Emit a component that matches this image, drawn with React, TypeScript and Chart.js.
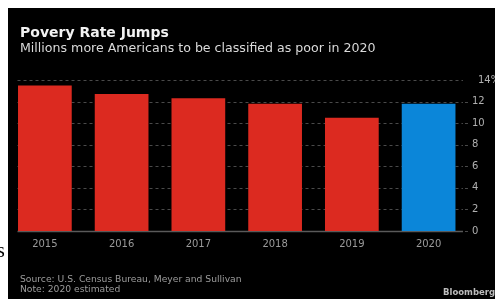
import React, { useEffect, useRef } from "react";
import { Chart, registerables } from "chart.js";

Chart.register(...registerables);

const years = ["2015", "2016", "2017", "2018", "2019", "2020"];
const povertyRate = [13.5, 12.7, 12.3, 11.8, 10.5, 11.8];
const barColors = ["#dc2a20", "#dc2a20", "#dc2a20", "#dc2a20", "#dc2a20", "#0b86d9"];
const yTicks = [0, 2, 4, 6, 8, 10, 12, 14];

const gridPlugin = {
  id: "customGrid",
  beforeDatasetsDraw(chart: any) {
    const { ctx, chartArea, scales } = chart;
    const y = scales.y;
    const x0 = chartArea.left + 11;
    const x1 = chartArea.right - 4;
    ctx.save();
    yTicks.forEach((v) => {
      const py = Math.round(y.getPixelForValue(v)) + 0.5;
      ctx.beginPath();
      if (v === 0) {
        ctx.setLineDash([]);
        ctx.strokeStyle = "#5a5a5a";
        ctx.lineWidth = 1.5;
      } else {
        ctx.setLineDash([3, 3]);
        ctx.strokeStyle = "#4a4a4a";
        ctx.lineWidth = 1;
      }
      ctx.moveTo(x0, py);
      ctx.lineTo(x1, py);
      ctx.stroke();
      if (v !== 14) {
        ctx.setLineDash([]);
        ctx.strokeStyle = "#4a4a4a";
        ctx.lineWidth = 1;
        ctx.beginPath();
        ctx.moveTo(x1 + 2, py);
        ctx.lineTo(x1 + 5, py);
        ctx.stroke();
      }
    });
    ctx.fillStyle = "#b0b0b0";
    ctx.font = "10px 'DejaVu Sans'";
    ctx.textBaseline = "middle";
    ctx.textAlign = "left";
    ctx.fillText("14%", chartArea.right + 11, y.getPixelForValue(14));
    ctx.restore();
  },
};

export default function App() {
  const ref = useRef<HTMLCanvasElement>(null);
  useEffect(() => {
    if (!ref.current) return;
    const chart = new Chart(ref.current, {
      type: "bar",
      data: {
        labels: years,
        datasets: [
          {
            data: povertyRate,
            backgroundColor: barColors,
            borderWidth: 0,
            barPercentage: 0.7,
            categoryPercentage: 1,
          },
        ],
      },
      options: {
        animation: false,
        responsive: false,
        maintainAspectRatio: false,
        layout: { padding: { left: 6.5, right: 5.3, top: 80, bottom: 42 } },
        plugins: { legend: { display: false }, tooltip: { enabled: false }, title: { display: false } },
        scales: {
          x: {
            grid: { display: false, drawTicks: false },
            border: { display: false },
            ticks: { color: "#9a9a9a", font: { family: "DejaVu Sans", size: 10 }, padding: 7 },
          },
          y: {
            position: "right",
            min: 0,
            max: 14,
            grid: { display: false, drawTicks: false },
            border: { display: false },
            afterBuildTicks: (axis: any) => {
              axis.ticks = yTicks.map((v) => ({ value: v }));
            },
            ticks: {
              color: "#b0b0b0",
              font: { family: "DejaVu Sans", size: 10 },
              padding: 5,
              callback: (v: any) => (v === 14 ? "" : String(v)),
            },
          },
        },
      },
      plugins: [gridPlugin],
    });
    return () => chart.destroy();
  }, []);

  return (
    <div>
      <span
        style={{
          position: "fixed",
          left: -3,
          top: 239,
          fontSize: 20,
          fontFamily: "serif",
          color: "#000",
        }}
      >
        s
      </span>
      <div
        style={{
          position: "fixed",
          left: 8,
          top: 8,
          right: 0,
          bottom: 0,
          background: "#000",
        }}
      />
      <canvas
        ref={ref}
        width={495}
        height={299}
        style={{ position: "fixed", left: 0, top: 0, width: 495, height: 299 }}
      />
      <div
        style={{
          position: "fixed",
          left: 20,
          top: 24,
          color: "#f2f2f2",
          fontFamily: "'DejaVu Sans'",
          fontWeight: "bold",
          fontSize: 14,
          lineHeight: "16px",
          whiteSpace: "nowrap",
        }}
      >
        Povery Rate Jumps
      </div>
      <div
        style={{
          position: "fixed",
          left: 20,
          top: 40,
          color: "#dadada",
          fontFamily: "'DejaVu Sans'",
          fontSize: 12.6,
          lineHeight: "15px",
          whiteSpace: "nowrap",
        }}
      >
        Millions more Americans to be classified as poor in 2020
      </div>
      <div
        style={{
          position: "fixed",
          left: 20,
          top: 274,
          color: "#9c9c9c",
          fontFamily: "'DejaVu Sans'",
          fontSize: 9.2,
          lineHeight: "10px",
          whiteSpace: "nowrap",
        }}
      >
        Source: U.S. Census Bureau, Meyer and Sullivan
        <br />
        Note: 2020 estimated
      </div>
      <div
        style={{
          position: "fixed",
          left: 443,
          top: 287,
          color: "#bdbdbd",
          fontFamily: "'DejaVu Sans'",
          fontWeight: "bold",
          fontSize: 8.5,
          lineHeight: "10px",
          whiteSpace: "nowrap",
        }}
      >
        Bloomberg
      </div>
    </div>
  );
}
